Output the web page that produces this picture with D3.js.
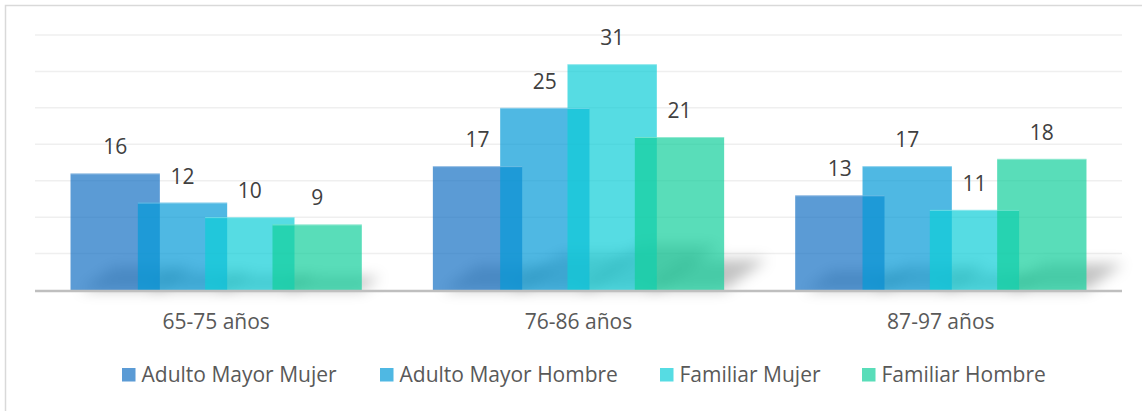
<!DOCTYPE html>
<html>
<head>
<meta charset="utf-8">
<script src="https://cdn.jsdelivr.net/npm/d3@7"></script>
<style>
  body { margin: 0; background: #fff; }
  svg { display: block; font-family: "Open Sans", "Noto Sans", sans-serif; }
</style>
</head>
<body>
<svg id="chart"></svg>
<script>
// data
let categories = ["65-75 años", "76-86 años", "87-97 años"];
let seriesNames = ["Adulto Mayor Mujer", "Adulto Mayor Hombre", "Familiar Mujer", "Familiar Hombre"];
let adultoMujer = [16, 17, 13];
let adultoHombre = [12, 25, 17];
let familiarMujer = [10, 31, 11];
let familiarHombre = [9, 21, 18];
let yTicks = [0, 5, 10, 15, 20, 25, 30, 35];

let seriesValues = [adultoMujer, adultoHombre, familiarMujer, familiarHombre];
// base colours, drawn at 70% opacity like the original
let colors = ["#1570c3", "#049ad7", "#0ecdd7", "#13cf9b"];

const width = 1142, height = 411;
const margin = {left: 35, right: 20, top: 35, bottom: 121};

let svg = d3.select("#chart").attr("width", width).attr("height", height);

// outer frame
svg.append("rect")
    .attr("x", 5.5).attr("y", 5.5)
    .attr("width", width + 10).attr("height", height + 10)
    .attr("fill", "none").attr("stroke", "#d9d9d9").attr("stroke-width", 1.5);

let x = d3.scaleBand().domain(categories).range([margin.left, width - margin.right]).padding(0);
let y = d3.scaleLinear().domain([0, 35]).range([height - margin.bottom, margin.top]);

// gridlines
svg.append("g")
    .selectAll("line")
    .data(yTicks.filter(d => d > 0))
    .join("line")
    .attr("x1", margin.left).attr("x2", width - margin.right)
    .attr("y1", d => y(d)).attr("y2", d => y(d))
    .attr("stroke", "#efefef").attr("stroke-width", 1.5);

// bar geometry inside a category (excel style overlap)
let bw = x.bandwidth();
let step = bw * 0.1858;
let barW = bw * 0.2465;
let barCenter = (cat, i) => x(cat) + bw / 2 + (i - 1.5) * step;

let flat = [];
categories.forEach((c, ci) => {
    seriesValues.forEach((vals, si) => {
        flat.push({cat: c, series: si, value: vals[ci]});
    });
});

// soft shadow behind bars
let defs = svg.append("defs");
defs.append("filter").attr("id", "blur")
    .attr("x", "-50%").attr("y", "-50%").attr("width", "200%").attr("height", "200%")
    .append("feGaussianBlur").attr("stdDeviation", 7);

let shadowG = svg.append("g").attr("filter", "url(#blur)");
shadowG.selectAll("path")
    .data(flat)
    .join("path")
    .attr("d", d => {
        let x0 = barCenter(d.cat, d.series) - barW / 2;
        let x1 = x0 + barW;
        let base = y(0);
        let h = (y(0) - y(d.value)) * 0.2;
        let dx = h * 1.4;
        return `M${x0 + 10},${base} L${x1},${base} L${x1 + dx},${base - h} L${x0 + 10 + dx},${base - h} Z`;
    })
    .attr("fill", "#000")
    .attr("opacity", 0.24);

// bars
svg.append("g")
    .selectAll("rect")
    .data(flat)
    .join("rect")
    .attr("x", d => barCenter(d.cat, d.series) - barW / 2)
    .attr("width", barW)
    .attr("y", d => y(d.value))
    .attr("height", d => y(0) - y(d.value))
    .attr("fill", d => colors[d.series])
    .attr("fill-opacity", 0.7);

// light top edge
svg.append("g")
    .selectAll("line")
    .data(flat)
    .join("line")
    .attr("x1", d => barCenter(d.cat, d.series) - barW / 2)
    .attr("x2", d => barCenter(d.cat, d.series) + barW / 2)
    .attr("y1", d => y(d.value) + 0.5).attr("y2", d => y(d.value) + 0.5)
    .attr("stroke", "#fff").attr("stroke-opacity", 0.35);

// data labels
svg.append("g")
    .selectAll("text")
    .data(flat)
    .join("text")
    .attr("x", d => barCenter(d.cat, d.series))
    .attr("y", d => y(d.value) - 19)
    .attr("text-anchor", "middle")
    .attr("font-size", 21)
    .attr("fill", "#404040")
    .text(d => d.value);

// baseline
svg.append("line")
    .attr("x1", margin.left).attr("x2", width - margin.right)
    .attr("y1", y(0) + 1).attr("y2", y(0) + 1)
    .attr("stroke", "#bfbfbf").attr("stroke-width", 2.5);

// category axis
let xAxis = d3.axisBottom(x).tickSize(0).tickPadding(0);
let axisG = svg.append("g")
    .attr("transform", `translate(0, ${y(0)})`)
    .call(xAxis);
axisG.select(".domain").remove();
axisG.selectAll("text")
    .attr("dy", 0)
    .attr("y", 39)
    .attr("font-size", 21)
    .attr("font-family", "'Open Sans', 'Noto Sans', sans-serif")
    .attr("fill", "#595959");

// legend
let legendX = [122, 380, 660, 862];
let legend = svg.append("g").selectAll("g")
    .data(seriesNames)
    .join("g")
    .attr("transform", (d, i) => `translate(${legendX[i]}, 368)`);
legend.append("rect")
    .attr("width", 13.5).attr("height", 13.5)
    .attr("fill", (d, i) => colors[i]).attr("fill-opacity", 0.7);
legend.append("text")
    .attr("x", 19.5).attr("y", 14)
    .attr("font-size", 21)
    .attr("fill", "#595959")
    .text(d => d);
</script>
</body>
</html>
